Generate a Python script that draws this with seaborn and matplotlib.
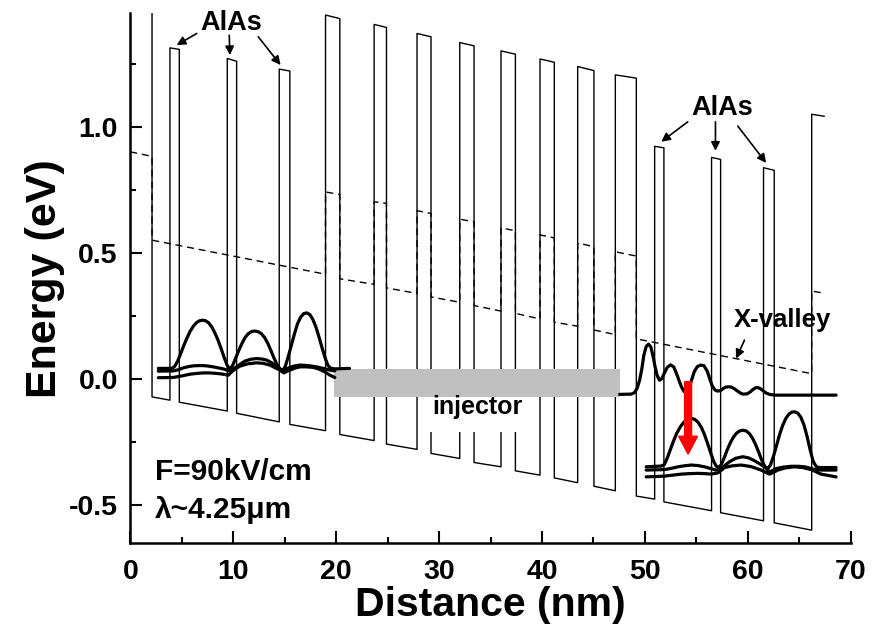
import numpy as np
import pandas as pd
import seaborn as sns
import matplotlib.pyplot as plt
from matplotlib.patches import Rectangle
from matplotlib.ticker import MultipleLocator

# ---- conduction band: wells and the barrier that follows each well ----
well_x0 = [2.11, 4.76, 10.33, 15.50, 20.36, 24.89, 29.22, 33.40, 37.42, 41.20, 45.05, 49.17, 51.85, 57.36, 62.57]
well_x1 = [3.85, 9.42, 14.47, 18.97, 23.69, 27.86, 32.01, 36.02, 39.81, 43.47, 47.13, 50.95, 56.48, 61.53, 66.21]
well_e0 = [-0.070, -0.091, -0.135, -0.179, -0.219, -0.257, -0.294, -0.330, -0.363, -0.391, -0.424, -0.463, -0.486, -0.529, -0.569]
well_e1 = [-0.083, -0.126, -0.169, -0.204, -0.243, -0.278, -0.314, -0.347, -0.380, -0.410, -0.442, -0.475, -0.521, -0.561, -0.598]
barrier_top0 = [1.313, 1.271, 1.229, 1.443, 1.406, 1.370, 1.334, 1.301, 1.269, 1.239, 1.206, 0.923, 0.879, 0.838, 1.050]
barrier_top1 = [1.307, 1.260, 1.221, 1.429, 1.394, 1.357, 1.321, 1.288, 1.256, 1.223, 1.193, 0.917, 0.871, 0.828, 1.042]
first_barrier_top = 1.59
last_barrier_end = 67.44

# ---- X-valley band edge ----
xv_x = [0.0, 2.11, 2.11, 18.97, 18.97, 20.36, 20.36, 23.69, 23.69, 24.89, 24.89, 27.86, 27.86, 29.22,
        29.22, 32.01, 32.01, 33.40, 33.40, 36.02, 36.02, 37.42, 37.42, 39.81, 39.81, 41.20, 41.20, 43.47,
        43.47, 45.05, 45.05, 47.13, 47.13, 49.17, 49.17, 66.21, 66.21, 67.44]
xv_e = [0.901, 0.883, 0.551, 0.416, 0.742, 0.732, 0.398, 0.376, 0.703, 0.697, 0.362, 0.340, 0.668, 0.657,
        0.326, 0.305, 0.634, 0.624, 0.292, 0.270, 0.600, 0.588, 0.261, 0.239, 0.572, 0.560, 0.226, 0.210,
        0.540, 0.525, 0.195, 0.177, 0.505, 0.488, 0.160, 0.022, 0.349, 0.341]

# ---- squared wavefunctions (offset by their energies) ----
psiA_x = [2.72, 4.02, 4.30, 4.60, 4.90, 5.20, 5.50, 5.80, 6.12, 6.45, 6.75, 7.03, 7.30, 7.60, 7.90, 8.20,
          8.50, 8.80, 9.10, 9.40, 9.68, 9.95, 10.25, 10.55, 10.85, 11.15, 11.45, 11.80, 12.10, 12.45, 12.75,
          13.05, 13.35, 13.65, 13.95, 14.25, 14.55, 14.79, 15.05, 15.35, 15.65, 15.95, 16.25, 16.55, 16.85,
          17.15, 17.45, 17.75, 18.05, 18.35, 18.65, 18.95, 19.20, 19.45, 19.87, 21.30]
psiA_e = [0.043, 0.043, 0.050, 0.072, 0.102, 0.134, 0.163, 0.189, 0.210, 0.225, 0.232, 0.234, 0.232, 0.224,
          0.208, 0.185, 0.157, 0.124, 0.088, 0.056, 0.039, 0.055, 0.085, 0.115, 0.142, 0.165, 0.180, 0.189,
          0.191, 0.188, 0.180, 0.165, 0.143, 0.115, 0.085, 0.058, 0.040, 0.033, 0.050, 0.090, 0.135, 0.180,
          0.220, 0.246, 0.260, 0.263, 0.256, 0.236, 0.205, 0.165, 0.122, 0.082, 0.055, 0.044, 0.041, 0.043]
psiB_x = [2.72, 4.18, 4.70, 5.15, 5.65, 6.12, 6.60, 7.09, 7.60, 8.06, 8.55, 9.03, 9.40, 9.68, 10.00, 10.33,
          10.70, 11.14, 11.70, 12.27, 12.80, 13.24, 13.70, 14.21, 14.55, 14.86, 15.15, 15.50, 16.00, 16.48,
          16.95, 17.45, 18.10, 18.74, 19.30, 19.87]
psiB_e = [0.032, 0.033, 0.038, 0.045, 0.050, 0.053, 0.054, 0.054, 0.052, 0.049, 0.045, 0.041, 0.036, 0.033,
          0.040, 0.049, 0.060, 0.072, 0.079, 0.082, 0.080, 0.076, 0.066, 0.052, 0.041, 0.033, 0.040, 0.047,
          0.053, 0.056, 0.055, 0.053, 0.049, 0.043, 0.037, 0.033]
psiC_x = [2.72, 4.18, 5.00, 5.80, 6.45, 7.09, 7.75, 8.39, 9.00, 9.52, 9.84, 10.25, 10.65, 11.40, 12.27, 12.90,
          13.56, 14.05, 14.54, 14.92, 15.20, 15.50, 16.00, 16.48, 17.10, 17.77, 18.35, 18.90, 19.40, 19.87]
psiC_e = [0.006, 0.007, 0.013, 0.020, 0.023, 0.025, 0.025, 0.023, 0.020, 0.016, 0.029, 0.042, 0.052, 0.061,
          0.065, 0.063, 0.056, 0.046, 0.036, 0.025, 0.031, 0.036, 0.044, 0.049, 0.049, 0.047, 0.040, 0.029,
          0.016, 0.007]
psiD_x = [47.55, 48.68, 49.00, 49.25, 49.49, 49.70, 49.90, 50.13, 50.36, 50.58, 50.80, 51.00, 51.20, 51.43,
          51.65, 51.90, 52.17, 52.50, 52.80, 53.05, 53.31, 53.55, 53.80, 54.02, 54.25, 54.50, 54.80, 55.10,
          55.40, 55.73, 56.05, 56.30, 56.55, 56.80, 57.05, 57.35, 57.65, 57.90, 58.15, 58.39, 58.70, 58.97,
          59.25, 59.52, 59.94, 60.25, 60.49, 60.75, 60.98, 61.25, 61.53, 61.80, 62.11, 62.59, 68.58]
psiD_e = [-0.060, -0.059, -0.053, -0.035, -0.004, 0.040, 0.095, 0.130, 0.139, 0.128, 0.090, 0.048, 0.014,
          -0.004, 0.002, 0.025, 0.047, 0.057, 0.049, 0.025, -0.004, -0.030, -0.048, -0.054, -0.040, -0.008,
          0.030, 0.050, 0.056, 0.054, 0.033, 0.002, -0.027, -0.042, -0.047, -0.045, -0.036, -0.031, -0.030,
          -0.031, -0.038, -0.046, -0.054, -0.059, -0.058, -0.050, -0.041, -0.034, -0.033, -0.038, -0.047,
          -0.055, -0.060, -0.063, -0.063]
psiE_x = [50.13, 51.59, 51.90, 52.20, 52.50, 52.80, 53.10, 53.45, 53.80, 54.15, 54.50, 54.85, 55.20, 55.50,
          55.80, 56.10, 56.40, 56.70, 56.95, 57.16, 57.40, 57.70, 58.00, 58.30, 58.60, 58.90, 59.20, 59.52,
          59.85, 60.15, 60.45, 60.75, 61.05, 61.35, 61.65, 61.95, 62.20, 62.50, 62.80, 63.10, 63.40, 63.70,
          64.00, 64.30, 64.55, 64.85, 65.15, 65.45, 65.75, 66.05, 66.35, 66.65, 66.95, 68.58]
psiE_e = [-0.347, -0.344, -0.338, -0.310, -0.276, -0.243, -0.214, -0.188, -0.170, -0.158, -0.155, -0.159,
          -0.172, -0.192, -0.220, -0.255, -0.292, -0.327, -0.345, -0.350, -0.340, -0.312, -0.280, -0.252,
          -0.230, -0.214, -0.205, -0.202, -0.205, -0.215, -0.233, -0.258, -0.288, -0.320, -0.345, -0.354,
          -0.340, -0.305, -0.262, -0.218, -0.182, -0.155, -0.138, -0.130, -0.129, -0.134, -0.150, -0.180,
          -0.225, -0.278, -0.325, -0.346, -0.350, -0.350]
psiF_x = [50.13, 51.91, 52.60, 53.21, 53.85, 54.50, 55.15, 55.80, 56.40, 56.93, 57.35, 57.80, 58.22, 58.85,
          59.52, 60.10, 60.65, 61.15, 61.62, 62.11, 62.45, 62.76, 63.50, 64.21, 64.90, 65.51, 66.00, 66.48,
          67.20, 68.58]
psiF_e = [-0.360, -0.358, -0.353, -0.347, -0.343, -0.340, -0.342, -0.347, -0.354, -0.360, -0.358, -0.341,
          -0.327, -0.313, -0.307, -0.312, -0.323, -0.335, -0.347, -0.367, -0.361, -0.354, -0.348, -0.345,
          -0.345, -0.347, -0.352, -0.358, -0.360, -0.360]
psiG_x = [50.13, 51.91, 52.70, 53.53, 54.35, 55.15, 55.80, 56.45, 57.09, 57.40, 57.74, 58.50, 59.36, 60.30,
          61.30, 61.75, 62.11, 62.50, 62.92, 63.70, 64.54, 65.35, 66.15, 66.70, 67.12, 68.58]
psiG_e = [-0.387, -0.384, -0.380, -0.376, -0.374, -0.373, -0.374, -0.376, -0.371, -0.362, -0.350, -0.343,
          -0.340, -0.346, -0.360, -0.369, -0.376, -0.369, -0.360, -0.351, -0.347, -0.350, -0.358, -0.368,
          -0.376, -0.387]

# injector miniband and the laser transition
injector_x = [19.75, 47.55]
injector_e = [-0.070, 0.040]
transition_x = 54.2
transition_e = [-0.010, -0.297]

# ---- assemble the band-edge polyline ----
band_x = [well_x0[0]]
band_e = [first_barrier_top]
for i in range(len(well_x0)):
    nxt = well_x0[i + 1] if i + 1 < len(well_x0) else last_barrier_end
    band_x += [well_x0[i], well_x1[i], well_x1[i], nxt]
    band_e += [well_e0[i], well_e1[i], barrier_top0[i], barrier_top1[i]]

psi = pd.concat([
    pd.DataFrame({"x": psiA_x, "E": psiA_e, "state": "A"}),
    pd.DataFrame({"x": psiB_x, "E": psiB_e, "state": "B"}),
    pd.DataFrame({"x": psiC_x, "E": psiC_e, "state": "C"}),
    pd.DataFrame({"x": psiD_x, "E": psiD_e, "state": "D"}),
    pd.DataFrame({"x": psiE_x, "E": psiE_e, "state": "E"}),
    pd.DataFrame({"x": psiF_x, "E": psiF_e, "state": "F"}),
    pd.DataFrame({"x": psiG_x, "E": psiG_e, "state": "G"}),
], ignore_index=True)

sns.set_theme(style="ticks")
plt.rcParams["font.family"] = ["Liberation Sans", "DejaVu Sans"]
plt.rcParams["font.weight"] = "bold"
plt.rcParams["axes.labelweight"] = "bold"
plt.rcParams["axes.unicode_minus"] = False
for key in ["text.color", "axes.labelcolor", "xtick.color", "ytick.color", "axes.edgecolor"]:
    plt.rcParams[key] = "black"

fig = plt.figure(figsize=(8.77, 6.36), dpi=100)
ax = fig.add_axes([0.1486, 0.1458, 0.8214, 0.8333])

sns.lineplot(x=band_x, y=band_e, sort=False, estimator=None, color="black", lw=1.0, ax=ax, zorder=2)
sns.lineplot(x=xv_x, y=xv_e, sort=False, estimator=None, color="black", lw=1.0,
             linestyle=(0, (5, 3.5)), ax=ax, zorder=2)

ax.add_patch(Rectangle((injector_x[0], injector_e[0]), injector_x[1] - injector_x[0],
                       injector_e[1] - injector_e[0], facecolor="#c0c0c0", edgecolor="none", zorder=3))

sns.lineplot(data=psi, x="x", y="E", units="state", estimator=None, sort=False, color="black",
             lw=2.3, ax=ax, zorder=4)

# white patch behind the injector label
ax.add_patch(Rectangle((29.1, -0.208), 9.2, 0.137, facecolor="white", edgecolor="none", zorder=3))
ax.text(33.75, -0.136, "injector", fontsize=18, fontweight="bold", ha="center", va="baseline", zorder=5)

ax.arrow(transition_x, transition_e[0], 0, transition_e[1] - transition_e[0], width=0.68,
         head_width=1.84, head_length=0.071, length_includes_head=True, color="red", zorder=6)

arrow_kw = dict(arrowstyle="-|>", color="black", lw=1.2, mutation_scale=13, shrinkA=0, shrinkB=0)
ax.text(9.77, 1.383, "AlAs", fontsize=19.5, fontweight="bold", ha="center", va="baseline")
for (x0, y0), (x1, y1) in [((6.45, 1.370), (4.50, 1.324)), ((9.61, 1.363), (9.68, 1.284)),
                           ((12.43, 1.357), (14.60, 1.245))]:
    ax.annotate("", xy=(x1, y1), xytext=(x0, y0), arrowprops=arrow_kw)
ax.text(57.5, 1.046, "AlAs", fontsize=19.5, fontweight="bold", ha="center", va="baseline")
for (x0, y0), (x1, y1) in [((54.17, 1.020), (51.59, 0.941)), ((56.86, 1.020), (56.86, 0.905)),
                           ((59.03, 1.003), (61.79, 0.857))]:
    ax.annotate("", xy=(x1, y1), xytext=(x0, y0), arrowprops=arrow_kw)
ax.text(63.4, 0.205, "X-valley", fontsize=18.5, fontweight="bold", ha="center", va="baseline")
ax.annotate("", xy=(58.87, 0.082), xytext=(59.68, 0.155), arrowprops=arrow_kw)

ax.text(2.42, -0.400, "F=90kV/cm", fontsize=21.5, fontweight="bold", ha="left", va="baseline")
ax.text(2.42, -0.548, "λ~4.25μm", fontsize=21.5, fontweight="bold", ha="left", va="baseline")

ax.set_xlim(0, 70)
ax.set_ylim(-0.65, 1.45)
ax.xaxis.set_major_locator(MultipleLocator(10))
ax.xaxis.set_minor_locator(MultipleLocator(5))
ax.yaxis.set_major_locator(MultipleLocator(0.5))
ax.yaxis.set_minor_locator(MultipleLocator(0.25))
ax.yaxis.set_major_formatter(plt.FuncFormatter(lambda v, p: f"{v:.1f}"))
ax.set_yticks([-0.5, 0.0, 0.5, 1.0])

for side in ["top", "right"]:
    ax.spines[side].set_visible(False)
for side in ["left", "bottom"]:
    ax.spines[side].set_linewidth(1.8)
ax.tick_params(which="major", direction="in", length=8.5, width=1.5, labelsize=20.5, pad=9)
ax.tick_params(which="minor", direction="in", length=4.3, width=1.5)
ax.tick_params(axis="x", which="major", pad=11)

ax.set_xlabel("Distance (nm)", fontsize=29.5, fontweight="bold", labelpad=1)
ax.set_ylabel("Energy (eV)", fontsize=31, fontweight="bold", labelpad=3)

fig.savefig("out.png", dpi=100)
